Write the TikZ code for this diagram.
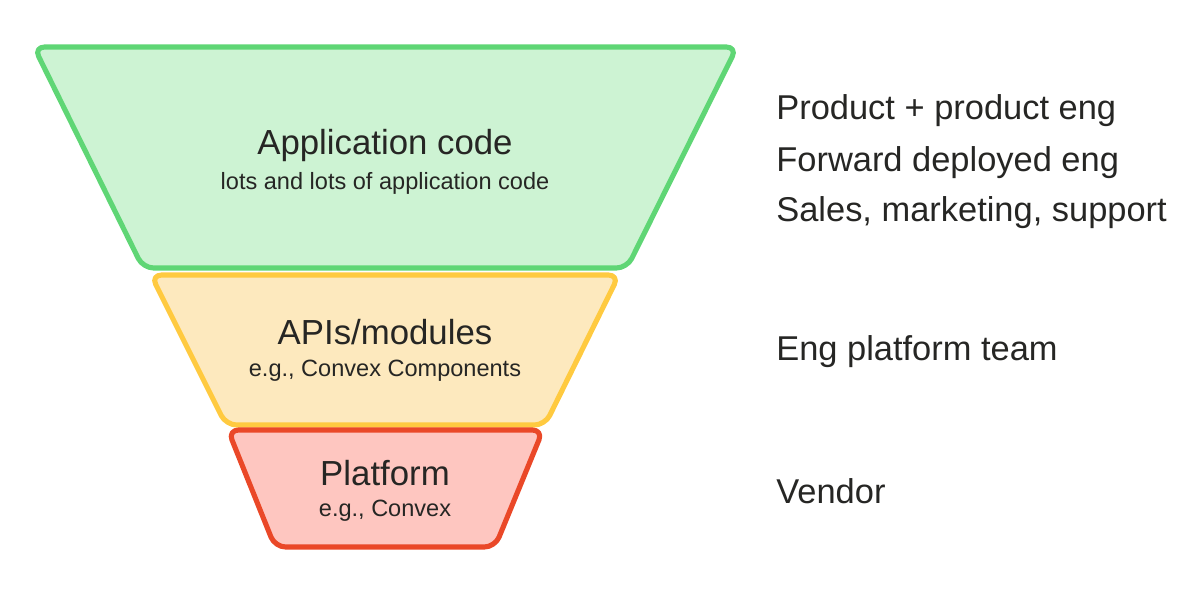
\documentclass[tikz,border=0pt]{standalone}
\usepackage{fontspec}
\setmainfont{Liberation Sans}
\definecolor{greenline}{RGB}{95,214,117}
\definecolor{greenfill}{RGB}{205,243,211}
\definecolor{yellowline}{RGB}{255,202,64}
\definecolor{yellowfill}{RGB}{253,233,190}
\definecolor{redline}{RGB}{234,72,40}
\definecolor{redfill}{RGB}{254,198,192}
\definecolor{ink}{RGB}{38,38,36}
\begin{document}
\begin{tikzpicture}[x=0.02cm,y=-0.02cm]

  \tikzstyle{layer}=[line width=2.9pt,rounded corners=6pt,line join=round]
  \tikzstyle{title}=[text=ink,inner sep=0pt,font=\fontsize{19.8}{23}\selectfont]
  \tikzstyle{sub}=[text=ink,inner sep=0pt,font=\fontsize{13.4}{16}\selectfont]
  \tikzstyle{who}=[text=ink,inner sep=0pt,anchor=west,font=\fontsize{19.6}{23}\selectfont]

  \useasboundingbox (0,0) rectangle (1200,595);

  % funnel
  \draw[layer,draw=greenline,fill=greenfill] (34,47) -- (737,47) -- (627,268) -- (143,268) -- cycle;
  \draw[layer,draw=yellowline,fill=yellowfill] (151,275) -- (619,275) -- (545,425) -- (226,425) -- cycle;
  \draw[layer,draw=redline,fill=redfill] (228,430) -- (543,430) -- (495,547) -- (275,547) -- cycle;

  \node[title] (app) at (385,146) {Application code};
  \node[sub] (appsub) at (385,183) {lots and lots of application code};
  \node[title] (api) at (385,332) {APIs/modules};
  \node[sub] (apisub) at (385,371) {e.g., Convex Components};
  \node[title] (plat) at (385,473) {Platform};
  \node[sub] (platsub) at (385,511) {e.g., Convex};

  % who owns it
  \node[who] (prod) at (776,111) {Product + product eng};
  \node[who] (fwd) at (776,163) {Forward deployed eng};
  \node[who] (sales) at (776,213) {Sales, marketing, support};
  \node[who] (team) at (776,352) {Eng platform team};
  \node[who] (vendor) at (776,491) {Vendor};

\end{tikzpicture}
\end{document}
